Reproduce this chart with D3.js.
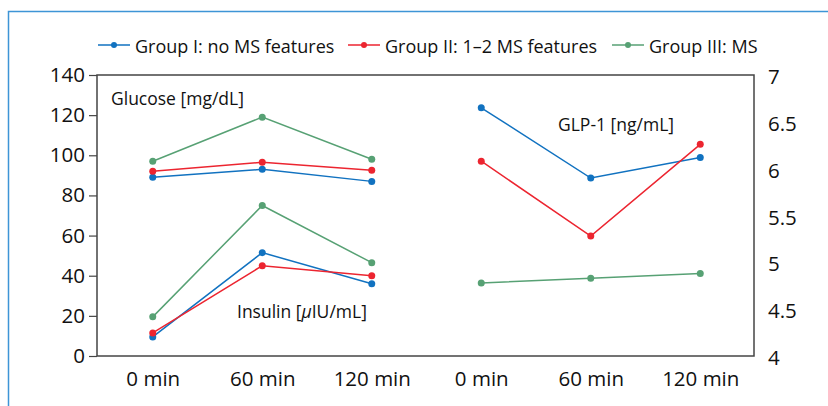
<!DOCTYPE html>
<html><head><meta charset="utf-8">
<script src="https://cdn.jsdelivr.net/npm/d3@7"></script>
<style>body{margin:0;background:#fff}svg{display:block}text{font-family:"Open Sans",sans-serif;fill:#111}</style>
</head><body><svg id="c" width="828" height="406"></svg>
<script>
const times = ["0 min", "60 min", "120 min"];
const groups = ["Group I: no MS features", "Group II: 1\u20132 MS features", "Group III: MS"];
const colors = ["#1172c0", "#ec2530", "#57a174"];
const glucose = [[89, 93, 87], [92, 96.5, 92.5], [97, 119, 98]];
const insulin = [[9.5, 51.5, 36], [11.5, 45, 40], [19.5, 75, 46.5]];
const glp1 = [[6.65, 5.90, 6.12], [6.08, 5.28, 6.26], [4.78, 4.83, 4.88]];
const leftTicks = [0, 20, 40, 60, 80, 100, 120, 140];
const rightTicks = [4, 4.5, 5, 5.5, 6, 6.5, 7];

const svg = d3.select("#c");
svg.append("path").attr("d", "M8.5,406 V11.5 H828").attr("fill", "none").attr("stroke", "#3d95d6").attr("stroke-width", 1.5);

const L = 97, R = 754, T = 75, B = 356;
const keys = ["a0", "a1", "a2", "b0", "b1", "b2"];
const x = d3.scalePoint().domain(keys).range([L + 1, R + 1]).padding(0.5);
const yL = d3.scaleLinear().domain([0, 140]).range([B, T]);
const yR = d3.scaleLinear().domain([4, 7]).range([B, T]);

const axisCol = "#444";
svg.append("rect").attr("x", L).attr("y", T).attr("width", R - L).attr("height", B - T)
  .attr("fill", "none").attr("stroke", axisCol).attr("stroke-width", 1.5);

const tickFont = "20.5px";
const gl = svg.append("g").attr("transform", `translate(${L},0)`)
  .call(d3.axisLeft(yL).tickValues(leftTicks).tickSize(8).tickPadding(4));
gl.select(".domain").remove();
gl.selectAll("line").attr("stroke", axisCol).attr("stroke-width", 1.2);
gl.selectAll("text").style("font-size", tickFont).attr("fill", "#111").style("font-family", "Open Sans");

const gr = svg.append("g").attr("transform", `translate(${R},0)`)
  .call(d3.axisRight(yR).tickValues(rightTicks).tickSize(0).tickPadding(14).tickFormat(d3.format("")));
gr.select(".domain").remove();
gr.selectAll("text").style("font-size", tickFont).attr("fill", "#111").style("font-family", "Open Sans").attr("dy", "0.42em");

const labels = keys.map((k, i) => times[i % 3]);
const gb = svg.append("g").attr("transform", `translate(0,${B})`)
  .call(d3.axisBottom(x).tickSize(0).tickPadding(15).tickFormat((d, i) => labels[i]));
gb.select(".domain").remove();
gb.selectAll("text").style("font-size", tickFont).attr("fill", "#111").style("font-family", "Open Sans");

const line = d3.line();
function drawSeries(vals, ks, y) {
  vals.forEach((arr, gi) => {
    const pts = arr.map((v, i) => [x(ks[i]), y(v)]);
    svg.append("path").attr("d", line(pts)).attr("fill", "none").attr("stroke", colors[gi]).attr("stroke-width", 1.5);
    svg.selectAll(null).data(pts).enter().append("circle")
      .attr("cx", d => d[0]).attr("cy", d => d[1]).attr("r", 3.5).attr("fill", colors[gi]);
  });
}
drawSeries(glucose, keys.slice(0, 3), yL);
drawSeries(insulin, keys.slice(0, 3), yL);
drawSeries(glp1, keys.slice(3), yR);

svg.append("text").attr("x", 111).attr("y", 105).style("font-size", "17.5px").text("Glucose [mg/dL]");
const ins = svg.append("text").attr("x", 237).attr("y", 318).style("font-size", "17.5px");
ins.append("tspan").text("Insulin [");
ins.append("tspan").style("font-style", "italic").text("\u03bc");
ins.append("tspan").text("IU/mL]");
svg.append("text").attr("x", 558).attr("y", 131).style("font-size", "17.5px").text("GLP-1 [ng/mL]");

const legStarts = [98, 348, 612];
groups.forEach((g, i) => {
  const lg = svg.append("g").attr("transform", `translate(${legStarts[i]},45)`);
  lg.append("line").attr("x1", 0).attr("x2", 32).attr("stroke", colors[i]).attr("stroke-width", 1.5);
  lg.append("circle").attr("cx", 16).attr("r", 3).attr("fill", colors[i]);
  lg.append("text").attr("x", 37).attr("y", 8).style("font-size", "18px").text(g);
});
</script></body></html>
